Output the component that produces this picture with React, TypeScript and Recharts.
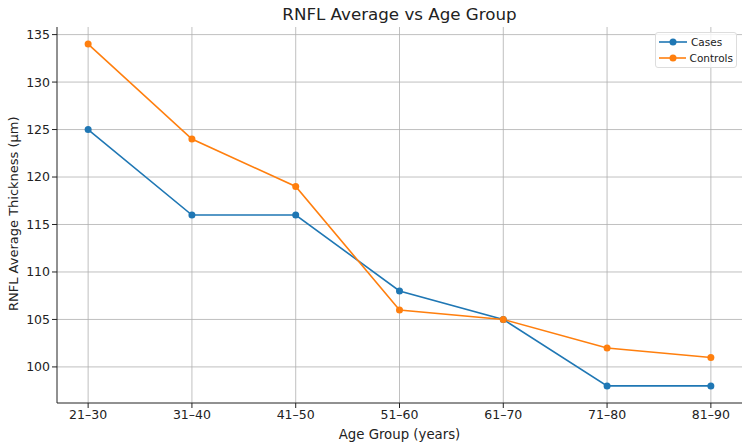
import { CartesianGrid, Line, LineChart, XAxis, YAxis } from "recharts"

const ageGroups = ["21–30", "31–40", "41–50", "51–60", "61–70", "71–80", "81–90"]
const casesValues = [125, 116, 116, 108, 105, 98, 98]
const controlsValues = [134, 124, 119, 106, 105, 102, 101]
const xTicks = [0, 1, 2, 3, 4, 5, 6]
const yTicks = [100, 105, 110, 115, 120, 125, 130, 135]

const font = "'DejaVu Sans', sans-serif"
const CASES = "#1f77b4"
const CONTROLS = "#ff7f0e"

const chartData = ageGroups.map((group, i) => ({
  idx: i,
  group,
  cases: casesValues[i],
  controls: controlsValues[i],
}))

function LegendBox() {
  const row = (color: string, label: string) => (
    <div style={{ display: "flex", alignItems: "center", height: 16 }}>
      <svg width={28} height={10} style={{ marginRight: 4 }}>
        <line x1={0} y1={5} x2={28} y2={5} stroke={color} strokeWidth={1.6} />
        <circle cx={14} cy={5} r={3.5} fill={color} />
      </svg>
      <span style={{ fontSize: 10.5, color: "#222" }}>{label}</span>
    </div>
  )
  return (
    <div
      style={{
        position: "absolute",
        top: 32,
        left: 655,
        width: 82,
        boxSizing: "border-box",
        zIndex: 2,
        fontFamily: font,
        background: "rgba(255,255,255,0.8)",
        border: "1px solid #dddddd",
        borderRadius: 3,
        padding: "1px 3px",
      }}
    >
      {row(CASES, "Cases")}
      {row(CONTROLS, "Controls")}
    </div>
  )
}

export default function App() {
  return (
    <div style={{ position: "relative", width: 750, height: 447, background: "#fff", fontFamily: font }}>
      <style>{`body{margin:0}`}</style>
      <div
        style={{
          position: "absolute",
          left: 57,
          width: 685,
          top: 4,
          textAlign: "center",
          fontSize: 16.7,
          color: "#222",
        }}
      >
        RNFL Average vs Age Group
      </div>
      <LegendBox />
      <LineChart width={750} height={447} data={chartData} margin={{ top: 27, right: 8, bottom: 0, left: 0 }}>
        <CartesianGrid stroke="#b0b0b0" strokeOpacity={0.8} syncWithTicks />
        <XAxis
          dataKey="idx"
          type="number"
          domain={[-0.3, 6.3]}
          ticks={xTicks}
          tickFormatter={(v: number) => ageGroups[v]}
          height={44}
          stroke="#222"
          tick={{ fontSize: 12.5, fill: "#222", fontFamily: font }}
          tickSize={5}
          label={{ value: "Age Group (years)", position: "insideBottom", offset: 8, fontSize: 13.3, fill: "#222", fontFamily: font }}
        />
        <YAxis
          type="number"
          domain={[96.2, 135.8]}
          ticks={yTicks}
          width={57}
          stroke="#222"
          tick={{ fontSize: 12.5, fill: "#222", fontFamily: font }}
          tickSize={5}
          label={{
            value: "RNFL Average Thickness (µm)",
            angle: -90,
            position: "insideLeft",
            dx: 8,
            dy: 96,
            fontSize: 13,
            fill: "#222",
            fontFamily: font,
          }}
        />
        <Line
          dataKey="cases"
          name="Cases"
          stroke={CASES}
          strokeWidth={1.6}
          dot={{ r: 3.5, fill: CASES, stroke: CASES, strokeWidth: 0 }}
          activeDot={false}
          isAnimationActive={false}
        />
        <Line
          dataKey="controls"
          name="Controls"
          stroke={CONTROLS}
          strokeWidth={1.6}
          dot={{ r: 3.5, fill: CONTROLS, stroke: CONTROLS, strokeWidth: 0 }}
          activeDot={false}
          isAnimationActive={false}
        />
      </LineChart>
    </div>
  )
}
